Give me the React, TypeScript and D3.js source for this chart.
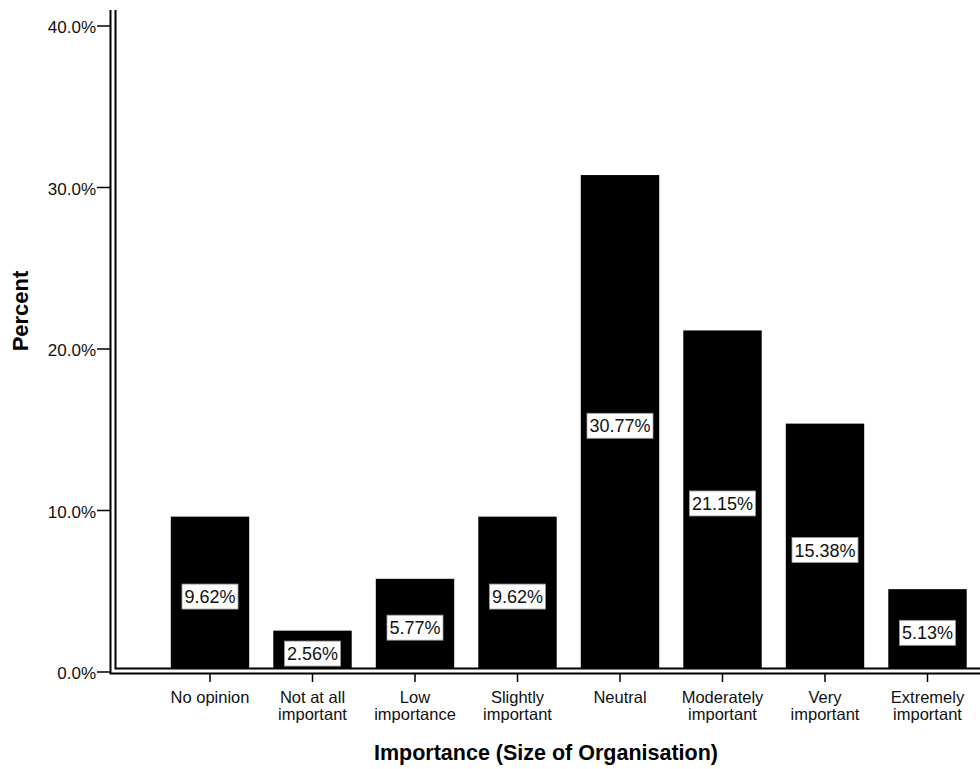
import React from "react";
import * as d3 from "d3";

const categories: string[][] = [
  ["No opinion"],
  ["Not at all", "important"],
  ["Low", "importance"],
  ["Slightly", "important"],
  ["Neutral"],
  ["Moderately", "important"],
  ["Very", "important"],
  ["Extremely", "important"],
];
const percents: number[] = [9.62, 2.56, 5.77, 9.62, 30.77, 21.15, 15.38, 5.13];
const yTicks: number[] = [0, 10, 20, 30, 40];
const xTitle = "Importance (Size of Organisation)";
const yTitle = "Percent";

const W = 980;
const H = 769;
const FONT = "'Liberation Sans', Arial, Helvetica, sans-serif";

function labelWidth(s: string, size: number): number {
  let w = 0;
  for (const ch of s) {
    if (ch === ".") w += 0.278;
    else if (ch === "%") w += 0.889;
    else w += 0.556;
  }
  return w * size;
}

export default function App() {
  const innerX = 115.5;
  const outerX = 110.5;
  const innerY = 668.5;
  const outerY = 673.5;
  const y = d3.scaleLinear().domain([0, 40]).range([672, 26]);
  const keys = categories.map((_, i) => String(i));
  const x = d3.scaleBand<string>().domain(keys).range([158.75, 978.75]).paddingInner(0.235).paddingOuter(0.1175);
  const bw = x.bandwidth();

  return (
    <div style={{ position: "absolute", left: 0, top: 0 }}>
      <svg width={W} height={H} style={{ display: "block", background: "#fff" }}>
        {percents.map((v, i) => {
          const x0 = x(String(i))!;
          const top = y(v);
          return <rect key={"b" + i} x={x0} y={top} width={bw} height={innerY - top} fill="#000" />;
        })}
        {percents.map((v, i) => {
          const cx = x(String(i))! + bw / 2;
          const top = y(v);
          const cy = (top + innerY) / 2 + 4;
          const label = v.toFixed(2) + "%";
          const tw = labelWidth(label, 18) + 5;
          return (
            <g key={"l" + i}>
              <rect x={cx - tw / 2} y={cy - 12.5} width={tw} height={25} fill="#fff" stroke="#999" strokeWidth={0.8} />
              <text x={cx} y={cy + 6.5} textAnchor="middle" fontFamily={FONT} fontSize={18} fill="#111">
                {label}
              </text>
            </g>
          );
        })}
        <path d={`M${outerX},10 V${outerY} H${W}`} fill="none" stroke="#000" strokeWidth={2} />
        <path d={`M${innerX},10 V${innerY} H${W}`} fill="none" stroke="#000" strokeWidth={2} />
        {yTicks.map((t) => (
          <g key={"yt" + t}>
            <line x1={97} x2={outerX} y1={y(t)} y2={y(t)} stroke="#000" strokeWidth={1.5} />
            <text x={96} y={y(t) + 7} textAnchor="end" fontFamily={FONT} fontSize={17} fill="#111">
              {t.toFixed(1) + "%"}
            </text>
          </g>
        ))}
        {categories.map((lines, i) => {
          const cx = x(String(i))! + bw / 2;
          return (
            <g key={"xt" + i}>
              <line x1={cx} x2={cx} y1={outerY} y2={682} stroke="#000" strokeWidth={1.5} />
              {lines.map((ln, j) => (
                <text key={j} x={cx} y={702.5 + j * 17.5} textAnchor="middle" fontFamily={FONT} fontSize={16.5} fill="#111">
                  {ln}
                </text>
              ))}
            </g>
          );
        })}
        <text x={546} y={760} textAnchor="middle" fontFamily={FONT} fontSize={21.5} fontWeight="bold" fill="#000">
          {xTitle}
        </text>
        <text
          transform={`translate(28,311) rotate(-90)`}
          textAnchor="middle"
          fontFamily={FONT}
          fontSize={22}
          fontWeight="bold"
          fill="#000"
        >
          {yTitle}
        </text>
      </svg>
    </div>
  );
}
